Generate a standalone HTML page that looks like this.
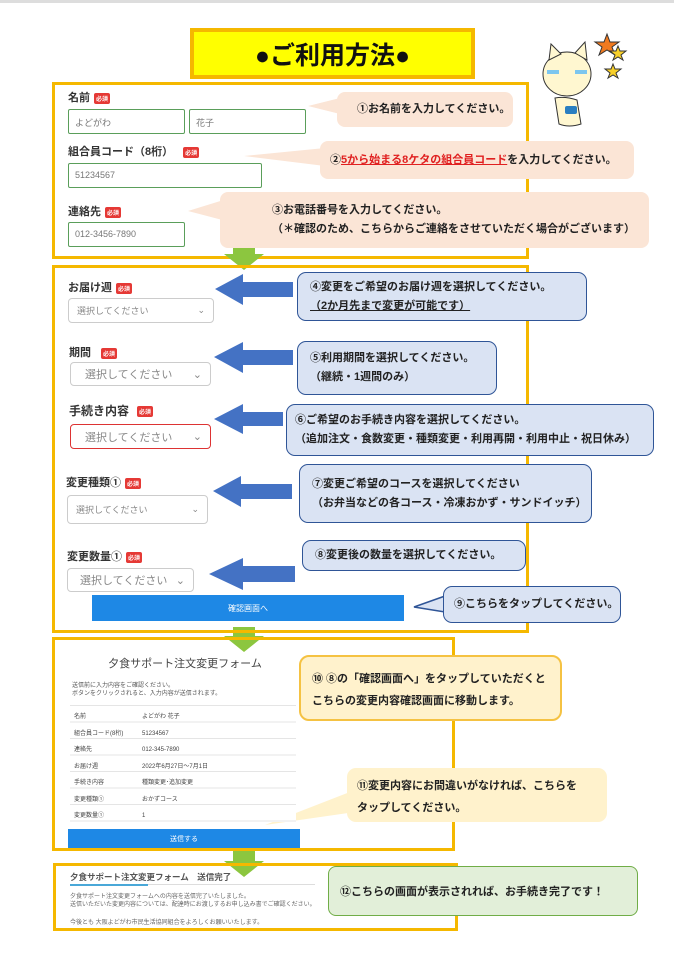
<!DOCTYPE html>
<html><head><meta charset="utf-8"><style>
*{margin:0;padding:0;box-sizing:border-box}
body{width:674px;height:953px;background:#fff;position:relative;overflow:hidden;font-family:"Liberation Sans","Noto Sans CJK JP",sans-serif;color:#222}
.a{position:absolute}
.box{position:absolute;border:3px solid #f5b800}
.lbl{position:absolute;font-size:11px;font-weight:bold;color:#333;white-space:nowrap}
.req{display:inline-block;background:#e53935;color:#fff;font-size:6px;padding:1px 2px;border-radius:2px;vertical-align:middle;margin-left:4px}
.inp{position:absolute;border:1px solid #5a9e5a;border-radius:2px;font-size:9px;color:#777;padding:6px 6px;background:#fff}
.sel{position:absolute;border:1px solid #ccc;border-radius:4px;font-size:9px;color:#888;padding:0 8px;display:flex;align-items:center;justify-content:space-between;background:#fff}
.pk{position:absolute;background:#fbe5d6;border-radius:8px;font-size:11px;font-weight:bold;color:#222;display:flex;flex-direction:column;justify-content:center;padding-left:12px;line-height:19px;white-space:nowrap}
.bl{position:absolute;background:#dae3f3;border:1.5px solid #2f5597;border-radius:9px;font-size:11px;font-weight:bold;color:#222;display:flex;flex-direction:column;justify-content:center;padding-left:12px;line-height:19px;white-space:nowrap}
.tab{position:absolute;font-size:6px;color:#444}
</style></head><body>
<div class="a" style="left:0;top:0;width:674px;height:3px;background:#ddd"></div>

<div class="a" style="left:190px;top:28px;width:285px;height:51px;background:#ffff00;border:4px solid #f5b800;font-size:25px;font-weight:bold;display:flex;align-items:center;justify-content:center;color:#111">●ご利用方法●</div>

<svg class="a" style="left:535px;top:28px" width="95" height="100">
<polygon points="72,6 75,14 84,14 77,19 80,27 72,22 64,27 67,19 60,14 69,14" fill="#f07a20" stroke="#333" stroke-width="1"/>
<polygon points="83,18 85,23 91,23 86,27 88,32 83,29 78,32 80,27 75,23 81,23" fill="#f8d02a" stroke="#333"/>
<polygon points="78,36 80,41 86,41 81,45 83,50 78,47 73,50 75,45 70,41 76,41" fill="#f8d02a" stroke="#333"/>
<ellipse cx="32" cy="46" rx="24" ry="22" fill="#fff7d0" stroke="#333"/>
<polygon points="14,32 16,16 26,26" fill="#fff7d0" stroke="#333"/>
<polygon points="40,25 50,14 52,32" fill="#fff7d0" stroke="#333"/>
<rect x="12" y="42" width="12" height="4" fill="#7cc6ef"/><rect x="40" y="42" width="12" height="4" fill="#7cc6ef"/>
<path d="M20,70 Q30,68 42,72 L46,96 Q34,100 24,96Z" fill="#fff7d0" stroke="#333"/>
<rect x="30" y="78" width="12" height="8" rx="2" fill="#2a7fc1"/>
</svg>

<div class="box" style="left:52px;top:82px;width:477px;height:177px"></div>
<div class="lbl" style="left:68px;top:89px">名前<span class="req">必須</span></div>
<div class="inp" style="left:68px;top:109px;width:117px;height:25px">よどがわ</div>
<div class="inp" style="left:189px;top:109px;width:117px;height:25px">花子</div>
<div class="lbl" style="left:68px;top:143px">組合員コード（8桁）<span class="req" style="margin-left:10px">必須</span></div>
<div class="inp" style="left:68px;top:163px;width:194px;height:25px">51234567</div>
<div class="lbl" style="left:68px;top:203px">連絡先<span class="req">必須</span></div>
<div class="inp" style="left:68px;top:222px;width:117px;height:25px">012-3456-7890</div>

<svg class="a" style="left:0;top:0" width="674" height="953">
<polygon points="340,98 308,106 340,114" fill="#fbe5d6"/>
<polygon points="325,148 244,156 325,166" fill="#fbe5d6"/>
<polygon points="230,198 188,211 230,222" fill="#fbe5d6"/>
<g fill="#8cc63f">
<polygon points="233,243 255,243 255,254 264,254 244,270 224,254 233,254"/>
<polygon points="233,627 255,627 255,636 264,636 244,652 224,636 233,636"/>
<polygon points="233,851 255,851 255,861 264,861 244,877 224,861 233,861"/>
</g>
<g fill="#4472c4">
<polygon points="293,282 243,282 243,274 215,289 243,305 243,297 293,297"/>
<polygon points="293,350 243,350 243,342 214,357 243,373 243,365 293,365"/>
<polygon points="283,412 243,412 243,404 214,419 243,434 243,426 283,426"/>
<polygon points="292,484 241,484 241,476 213,491 241,507 241,499 292,499"/>
<polygon points="295,566 243,566 243,558 209,574 243,590 243,582 295,582"/>
</g>
<polygon points="445,596 414,607 445,612" fill="#dae3f3" stroke="#2f5597" stroke-width="1.5"/>
<polygon points="355,790 265,825 355,812" fill="#fff2cc"/>
</svg>

<div class="pk" style="left:337px;top:92px;width:176px;height:35px;padding-left:20px">①お名前を入力してください。</div>
<div class="pk" style="left:320px;top:141px;width:314px;height:38px;padding-left:10px"><span>②<span style="color:#e02020;text-decoration:underline">5から始まる8ケタの組合員コード</span>を入力してください。</span></div>
<div class="pk" style="left:220px;top:192px;width:429px;height:56px;padding-left:52px"><span>③お電話番号を入力してください。</span><span>（＊確認のため、こちらからご連絡をさせていただく場合がございます）</span></div>

<div class="box" style="left:52px;top:265px;width:477px;height:368px"></div>
<div class="lbl" style="left:68px;top:279px">お届け週<span class="req">必須</span></div>
<div class="sel" style="left:68px;top:298px;width:146px;height:25px"><span>選択してください</span><span>⌄</span></div>
<div class="lbl" style="left:69px;top:344px">期間<span class="req" style="margin-left:10px">必須</span></div>
<div class="sel" style="left:70px;top:362px;width:141px;height:24px;font-size:11px;padding-left:14px"><span>選択してください</span><span>⌄</span></div>
<div class="lbl" style="left:69px;top:402px;font-size:12px">手続き内容<span class="req" style="margin-left:8px">必須</span></div>
<div class="sel" style="left:70px;top:424px;width:141px;height:25px;border-color:#d33;font-size:11px;padding-left:14px"><span>選択してください</span><span>⌄</span></div>
<div class="lbl" style="left:66px;top:474px">変更種類①<span class="req">必須</span></div>
<div class="sel" style="left:67px;top:495px;width:141px;height:29px"><span>選択してください</span><span>⌄</span></div>
<div class="lbl" style="left:67px;top:548px">変更数量①<span class="req">必須</span></div>
<div class="sel" style="left:67px;top:568px;width:127px;height:24px;font-size:11px;padding-left:12px"><span>選択してください</span><span>⌄</span></div>
<div class="a" style="left:92px;top:595px;width:312px;height:26px;background:#1e88e5;color:#fff;font-size:8px;display:flex;align-items:center;justify-content:center">確認画面へ</div>

<div class="bl" style="left:297px;top:272px;width:290px;height:49px"><span>④変更をご希望のお届け週を選択してください。</span><span style="text-decoration:underline">（2か月先まで変更が可能です）</span></div>
<div class="bl" style="left:297px;top:341px;width:200px;height:54px"><span>⑤利用期間を選択してください。</span><span>（継続・1週間のみ）</span></div>
<div class="bl" style="left:286px;top:404px;width:368px;height:52px;padding-left:8px"><span>⑥ご希望のお手続き内容を選択してください。</span><span>（追加注文・食数変更・種類変更・利用再開・利用中止・祝日休み）</span></div>
<div class="bl" style="left:299px;top:464px;width:293px;height:59px"><span>⑦変更ご希望のコースを選択してください</span><span>（お弁当などの各コース・冷凍おかず・サンドイッチ）</span></div>
<div class="bl" style="left:302px;top:540px;width:224px;height:31px"><span>⑧変更後の数量を選択してください。</span></div>
<div class="bl" style="left:443px;top:586px;width:178px;height:37px;padding-left:10px"><span>⑨こちらをタップしてください。</span></div>

<div class="box" style="left:52px;top:637px;width:403px;height:214px"></div>
<div class="a" style="left:90px;top:655px;width:190px;text-align:center;font-size:11px;color:#444">夕食サポート注文変更フォーム</div>
<div class="a" style="left:72px;top:682px;font-size:6px;color:#555;line-height:8px">送信前に入力内容をご確認ください。<br>ボタンをクリックされると、入力内容が送信されます。</div>
<div class="a" style="left:70px;top:705px;width:226px;border-top:1px solid #e5e5e5"></div>
<div class="a" style="left:70px;top:706px;width:226px;height:116px;background:repeating-linear-gradient(#fff 0,#fff 15.5px,#e5e5e5 15.5px,#e5e5e5 16.5px)"></div>
<div class="tab" style="left:74px;top:709px;line-height:16.5px">名前<br>組合員コード(8桁)<br>連絡先<br>お届け週<br>手続き内容<br>変更種類①<br>変更数量①</div>
<div class="tab" style="left:142px;top:709px;line-height:16.5px">よどがわ 花子<br>51234567<br>012-345-7890<br>2022年6月27日〜7月1日<br>種類変更･追加変更<br>おかずコース<br>1</div>
<div class="a" style="left:68px;top:829px;width:232px;height:19px;background:#1e88e5;color:#fff;font-size:7px;display:flex;align-items:center;justify-content:center">送信する</div>

<div class="a" style="left:299px;top:655px;width:263px;height:66px;background:#fff2cc;border:2px solid #f5c242;border-radius:10px;font-size:11px;font-weight:bold;padding:11px 0 0 11px;line-height:22px;white-space:nowrap">⑩ ⑧の「確認画面へ」をタップしていただくと<br>こちらの変更内容確認画面に移動します。</div>
<div class="a" style="left:347px;top:768px;width:260px;height:54px;background:#fff2cc;border-radius:9px;font-size:11px;font-weight:bold;padding:7px 0 0 10px;line-height:22px;white-space:nowrap">⑪変更内容にお間違いがなければ、こちらを<br>タップしてください。</div>

<div class="box" style="left:53px;top:863px;width:405px;height:68px"></div>
<div class="a" style="left:70px;top:871px;font-size:8.5px;font-weight:bold;color:#555;white-space:nowrap">夕食サポート注文変更フォーム　送信完了</div>
<div class="a" style="left:70px;top:884px;width:245px;height:1px;background:#ddd"></div>
<div class="a" style="left:70px;top:884px;width:78px;height:1.5px;background:#4aa8d8"></div>
<div class="a" style="left:70px;top:893px;font-size:6px;color:#666;line-height:8px;white-space:nowrap">夕食サポート注文変更フォームへの内容を送信完了いたしました。<br>送信いただいた変更内容については、配達時にお渡しするお申し込み書でご確認ください。</div>
<div class="a" style="left:70px;top:917px;font-size:6px;color:#666;white-space:nowrap">今後とも 大阪よどがわ市民生活協同組合をよろしくお願いいたします。</div>
<div class="a" style="left:328px;top:866px;width:310px;height:50px;background:#e2efd9;border:1.5px solid #70ad47;border-radius:8px;font-size:11px;font-weight:bold;display:flex;align-items:center;padding-left:11px">⑫こちらの画面が表示されれば、お手続き完了です！</div>
</body></html>
